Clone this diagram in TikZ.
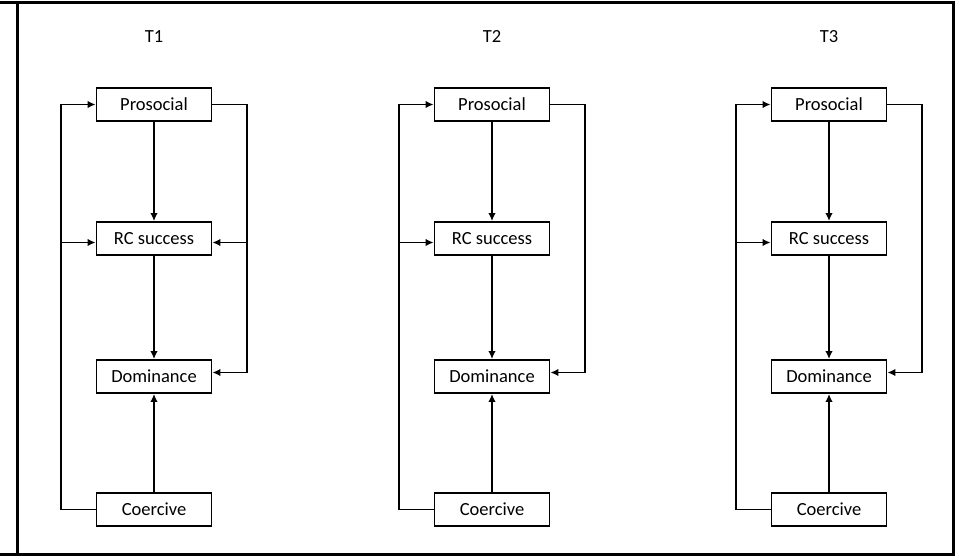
\documentclass[tikz,border=0pt]{standalone}
\usepackage{fontspec}
\setmainfont{Carlito}
\usetikzlibrary{arrows.meta,calc}
\begin{document}
\begin{tikzpicture}[x=1pt,y=-1pt,
  box/.style={draw,line width=1.9pt,minimum width=115pt,minimum height=33pt,inner sep=0pt,font=\fontsize{18.5}{20}\selectfont},
  lab/.style={font=\fontsize{18.5}{20}\selectfont},
  arr/.style={line width=1.9pt,-{Latex[length=8pt,width=7.5pt]}},
  frame/.style={line width=3pt}]
\useasboundingbox (0,0) rectangle (956,556);
% outer frame
\draw[frame] (0,3) -- (953,3) -- (953,554) -- (0,554);
\draw[frame] (17,3) -- (17,554);
% three time points, identical layout
\foreach \i/\dx in {1/0,2/338,3/675}{
  \node[lab] (t\i) at (154+\dx,37) {T\i};
  \node[box] (p\i) at (154+\dx,104.5) {Prosocial};
  \node[box] (r\i) at (154+\dx,238.5) {RC success};
  \node[box] (d\i) at (154+\dx,376.5) {Dominance};
  \node[box] (c\i) at (154+\dx,509.5) {Coercive};
  \coordinate (l\i) at (61+\dx,0);
  \coordinate (q\i) at (247+\dx,0);
  \draw[arr] (p\i) -- (r\i);
  \draw[arr] (r\i) -- (d\i);
  \draw[arr] (c\i) -- (d\i);
  \draw[arr] (c\i.west) -- (c\i.west -| l\i) -- (p\i.west -| l\i) -- (p\i.west);
  \draw[arr] ([yshift=-4pt]r\i.west -| l\i) -- ([yshift=-4pt]r\i.west);
  \draw[arr] (p\i.east) -- (p\i.east -| q\i) -- ([yshift=4pt]d\i.east -| q\i) -- ([yshift=4pt]d\i.east);
}
\draw[arr] ([yshift=-4pt]r1.east -| q1) -- ([yshift=-4pt]r1.east);
\end{tikzpicture}
\end{document}
